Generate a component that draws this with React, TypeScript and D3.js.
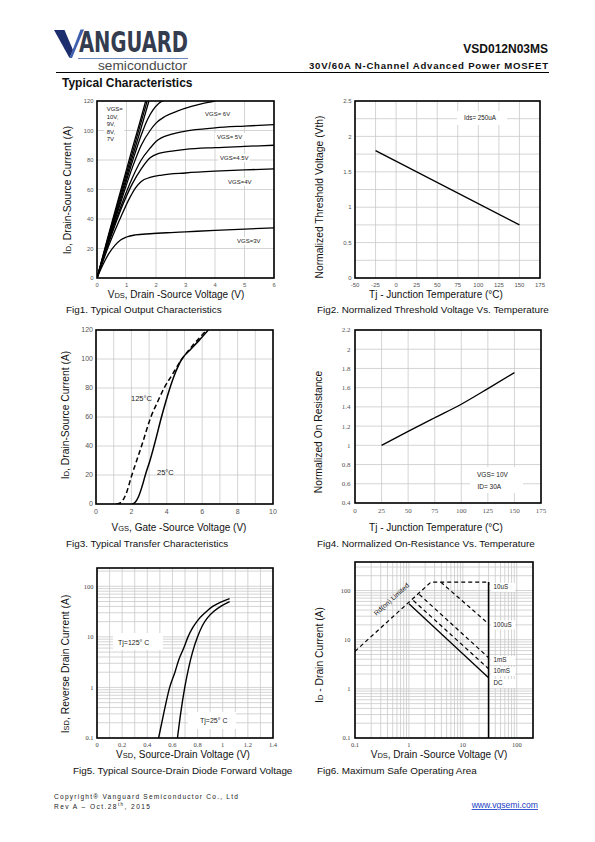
import React from 'react';
import * as d3 from 'd3';

type Pt = [number, number];

// ---------- Fig1: output characteristics ----------
const fig1XTicks = [0, 1, 2, 3, 4, 5, 6];
const fig1YTicks = [0, 20, 40, 60, 80, 100, 120];
const fig1Vgs10: Pt[] = [[0, 0], [0.4, 30], [0.8, 59], [1.2, 88], [1.5, 109], [1.65, 120]];
const fig1Vgs9: Pt[] = [[0, 0], [0.4, 29], [0.8, 57], [1.2, 85], [1.5, 106], [1.7, 120]];
const fig1Vgs8: Pt[] = [[0, 0], [0.4, 28], [0.8, 55], [1.2, 82], [1.5, 102], [1.76, 120]];
const fig1Vgs7: Pt[] = [[0, 0], [0.4, 27], [0.8, 53], [1.2, 79], [1.5, 97], [1.7, 107], [1.9, 114], [2.1, 118.5], [2.35, 121]];
const fig1Vgs6: Pt[] = [[0, 0], [0.4, 26], [0.8, 51], [1.2, 75], [1.5, 90], [1.8, 100], [2.0, 105], [2.3, 109.5], [2.7, 113], [3.2, 116.3], [3.6, 118.4], [4.0, 120]];
const fig1Vgs5: Pt[] = [[0, 0], [0.4, 25], [0.8, 48], [1.2, 68], [1.5, 80], [1.8, 88], [2.0, 92.5], [2.5, 97.3], [3, 99.6], [4, 101.8], [5, 103], [6, 104]];
const fig1Vgs45: Pt[] = [[0, 0], [0.4, 24], [0.8, 46], [1.2, 64], [1.5, 74], [1.8, 81.5], [2.1, 84.5], [2.6, 86.2], [3, 87.2], [4, 88.4], [5, 89.2], [6, 90]];
const fig1Vgs4: Pt[] = [[0, 0], [0.4, 22], [0.8, 41], [1.1, 54], [1.3, 61], [1.5, 65.5], [1.8, 68.2], [2.2, 69.8], [3, 71.2], [4, 72.4], [5, 73.3], [6, 74]];
const fig1Vgs3: Pt[] = [[0, 0], [0.2, 9], [0.4, 16.5], [0.6, 22], [0.8, 25.8], [1.0, 27.8], [1.3, 29.2], [1.8, 30], [2.5, 30.8], [3, 31.3], [4, 32.3], [5, 33.2], [6, 34]];
const fig1Series = [fig1Vgs10, fig1Vgs9, fig1Vgs8, fig1Vgs7, fig1Vgs6, fig1Vgs5, fig1Vgs45, fig1Vgs4, fig1Vgs3];
const fig1GateLabels = ['VGS=', '10V,', '9V,', '8V,', '7V'];

// ---------- Fig2: threshold voltage ----------
const fig2XTicks = [-50, -25, 0, 25, 50, 75, 100, 125, 150, 175];
const fig2YTicks = [0, 0.5, 1, 1.5, 2, 2.5];
const fig2YGrid = [0, 0.25, 0.5, 0.75, 1, 1.25, 1.5, 1.75, 2, 2.25, 2.5];
const fig2Vth: Pt[] = [[-25, 1.8], [150, 0.75]];

// ---------- Fig3: transfer ----------
const fig3XTicks = [0, 2, 4, 6, 8, 10];
const fig3XGrid = [0, 1, 2, 3, 4, 5, 6, 7, 8, 9, 10];
const fig3YTicks = [0, 20, 40, 60, 80, 100, 120];
const fig3T25: Pt[] = [[2.05, 0], [2.2, 1], [2.4, 5], [2.6, 12], [2.8, 20.5], [3.05, 30], [3.3, 41], [3.7, 60], [4.15, 79], [4.5, 91], [4.85, 100], [5.3, 106], [5.8, 112.5], [6.35, 120]];
const fig3T125: Pt[] = [[1.15, 0], [1.4, 1], [1.7, 7], [2.0, 19], [2.3, 30], [2.6, 41], [3.1, 60], [3.5, 71], [3.85, 80], [4.3, 89], [4.8, 99], [5.3, 107], [5.8, 114], [6.25, 120]];

// ---------- Fig4: on-resistance ----------
const fig4XTicks = [0, 25, 50, 75, 100, 125, 150, 175];
const fig4YTicks = [0.4, 0.6, 0.8, 1, 1.2, 1.4, 1.6, 1.8, 2, 2.2];
const fig4Ron: Pt[] = [[25, 1.0], [50, 1.145], [75, 1.287], [100, 1.428], [125, 1.59], [150, 1.757]];

// ---------- Fig5: diode forward ----------
const fig5XTicks = [0, 0.2, 0.4, 0.6, 0.8, 1, 1.2, 1.4];
const fig5XGrid = [0, 0.1, 0.2, 0.3, 0.4, 0.5, 0.6, 0.7, 0.8, 0.9, 1, 1.1, 1.2, 1.3, 1.4];
const fig5YTicks = [0.1, 1, 10, 100];
const fig5Tj125: Pt[] = [[0.49, 0.1], [0.53, 0.3], [0.578, 1], [0.62, 2], [0.65, 3.5], [0.69, 6], [0.724, 10], [0.76, 15], [0.8, 21], [0.86, 30], [0.92, 40], [0.98, 48], [1.055, 57]];
const fig5Tj25: Pt[] = [[0.64, 0.1], [0.665, 0.3], [0.698, 1], [0.73, 2.5], [0.76, 5], [0.8, 10], [0.84, 17], [0.88, 24], [0.93, 32], [0.99, 41], [1.055, 50]];

// ---------- Fig6: SOA ----------
const fig6XTicks = [0.1, 1, 10, 100];
const fig6YTicks = [0.1, 1, 10, 100];
const fig6Rds: Pt[] = [[0.1, 5.8], [2.56, 148], [30, 148]];
const fig6Drop: Pt[] = [[30, 148], [30, 125]];
const fig6Us100: Pt[] = [[3.9, 148], [30, 21]];
const fig6Ms1: Pt[] = [[1.56, 83], [30, 4.3]];
const fig6Ms10: Pt[] = [[1.21, 62.5], [30, 2.56]];
const fig6Dc: Pt[] = [[1.0, 53.6], [30, 1.68]];
const fig6Vmax: Pt[] = [[30, 148], [30, 0.1]];
const fig6Labels = ['10uS', '100uS', '1mS', '10mS', 'DC'];

const SANS = "'Liberation Sans', Arial, sans-serif";
const SERIF = "'Liberation Serif', 'Times New Roman', serif";
const GRID = '#c9c9c9';

function logGrid(lo: number, hi: number): number[] {
  const out: number[] = [];
  for (let d = lo; d <= hi; d *= 10) {
    for (let m = 1; m <= 9; m++) {
      const v = +(m * d).toPrecision(3);
      if (v >= lo - 1e-9 && v <= hi + 1e-9) out.push(v);
    }
  }
  return out;
}

interface PanelProps {
  id: string;
  x: any;
  y: any;
  xGrid: number[];
  yGrid: number[];
  xTicks: number[];
  yTicks: number[];
  fmt?: (v: number) => string;
  font: string;
  size: number;
  color?: string;
  xTickY: number;
  yTickX: number;
  labels?: React.ReactNode;
  children?: React.ReactNode;
}

function Panel(p: PanelProps) {
  const [x0, x1] = p.x.range();
  const [yb, yt] = p.y.range();
  const f = p.fmt || ((v: number) => String(v));
  const col = p.color || '#444';
  return (
    <g>
      <rect x={x0} y={yt} width={x1 - x0} height={yb - yt} fill="#fff" />
      {p.xGrid.map((v, i) => (
        <line key={'xg' + i} x1={p.x(v)} x2={p.x(v)} y1={yt} y2={yb} stroke={GRID} strokeWidth={0.8} />
      ))}
      {p.yGrid.map((v, i) => (
        <line key={'yg' + i} y1={p.y(v)} y2={p.y(v)} x1={x0} x2={x1} stroke={GRID} strokeWidth={0.8} />
      ))}
      {p.labels}
      <clipPath id={p.id}>
        <rect x={x0} y={yt} width={x1 - x0} height={yb - yt} />
      </clipPath>
      <g clipPath={`url(#${p.id})`}>{p.children}</g>
      <rect x={x0} y={yt} width={x1 - x0} height={yb - yt} fill="none" stroke="#000" strokeWidth={1.6} />
      {p.xTicks.map((v, i) => (
        <text key={'xt' + i} x={p.x(v)} y={p.xTickY} textAnchor="middle" fontFamily={p.font} fontSize={p.size} fill={col}>
          {f(v)}
        </text>
      ))}
      {p.yTicks.map((v, i) => (
        <text key={'yt' + i} x={p.yTickX} y={p.y(v)} dy="0.35em" textAnchor="end" fontFamily={p.font} fontSize={p.size} fill={col}>
          {f(v)}
        </text>
      ))}
    </g>
  );
}

function Boxed({ x, y, w, h, children }: { x: number; y: number; w: number; h: number; children?: React.ReactNode }) {
  return (
    <g>
      <rect x={x} y={y} width={w} height={h} fill="#fff" />
      {children}
    </g>
  );
}

function path(pts: Pt[], x: any, y: any, curve: any = d3.curveMonotoneX) {
  return d3.line<Pt>().x((d) => x(d[0])).y((d) => y(d[1])).curve(curve)(pts) || '';
}

function YTitle({ x, y, children }: { x: number; y: number; children?: React.ReactNode }) {
  return (
    <text transform={`translate(${x},${y}) rotate(-90)`} textAnchor="middle" fontFamily={SANS} fontSize={10.3} fill="#111">
      {children}
    </text>
  );
}

function XTitle({ x, y, children }: { x: number; y: number; children?: React.ReactNode }) {
  return (
    <text x={x} y={y} textAnchor="middle" fontFamily={SANS} fontSize={10} fill="#111">
      {children}
    </text>
  );
}

function Caption({ x, y, children }: { x: number; y: number; children?: React.ReactNode }) {
  return (
    <text x={x} y={y} fontFamily={SANS} fontSize={9.9} fill="#111">
      {children}
    </text>
  );
}

const sub = (t: string) => <tspan fontSize={7.5}>{t}</tspan>;

export default function App() {
  const x1 = d3.scaleLinear().domain([0, 6]).range([97, 274]);
  const y1 = d3.scaleLinear().domain([0, 120]).range([278, 101]);
  const x2 = d3.scaleLinear().domain([-50, 175]).range([355, 540]);
  const y2 = d3.scaleLinear().domain([0, 2.5]).range([278, 101]);
  const x3 = d3.scaleLinear().domain([0, 10]).range([96, 273]);
  const y3 = d3.scaleLinear().domain([0, 120]).range([504, 330]);
  const x4 = d3.scaleLinear().domain([0, 175]).range([355, 541]);
  const y4 = d3.scaleLinear().domain([0.4, 2.2]).range([503, 330]);
  const x5 = d3.scaleLinear().domain([0, 1.4]).range([97, 273]);
  const y5 = d3.scaleLog().domain([0.1, 230]).range([738, 568]);
  const x6 = d3.scaleLog().domain([0.1, 200]).range([355, 533]);
  const y6 = d3.scaleLog().domain([0.1, 380]).range([738, 562]);

  const lbl = (s: number) => ({ fontFamily: SANS, fontSize: s, fill: '#222' });

  return (
    <svg width={595} height={842} viewBox="0 0 595 842" style={{ position: 'absolute', left: 0, top: 0, background: '#fff' }} fontFamily={SANS}>
      <rect x={0} y={0} width={595} height={842} fill="#fff" />
      {/* Header */}
      <polygon points="54,30 64.5,30 73,50 69.5,58" fill="#1d2e6e" />
      <polygon points="69.5,58 80.5,29.5 84,29.5 72,58" fill="#3f5fae" />
      <text x={79} y={52} fontFamily="'DejaVu Sans Condensed', 'DejaVu Sans', sans-serif" fontWeight="bold" fontSize={28} fill="#343c50" textLength={109} lengthAdjust="spacingAndGlyphs">ANGUARD</text>
      <line x1={78} x2={188} y1={58.5} y2={58.5} stroke="#6f88c2" strokeWidth={1} />
      <text x={98} y={70} fontFamily={SANS} fontSize={13} fill="#4a4a4a" textLength={89} lengthAdjust="spacingAndGlyphs">semiconductor</text>
      <text x={548} y={53} textAnchor="end" fontFamily={SANS} fontWeight="bold" fontSize={12} fill="#111">VSD012N03MS</text>
      <text x={309} y={69} fontFamily={SANS} fontWeight="bold" fontSize={9.6} fill="#111" textLength={239} lengthAdjust="spacing">30V/60A  N-Channel  Advanced  Power  MOSFET</text>
      <line x1={56} x2={549} y1={72.5} y2={72.5} stroke="#000" strokeWidth={1.2} />
      <text x={62} y={87} fontFamily={SANS} fontWeight="bold" fontSize={12} fill="#111">Typical Characteristics</text>

      {/* Fig1 */}
      <Panel id="c1" x={x1} y={y1} xGrid={fig1XTicks} yGrid={fig1YTicks} xTicks={fig1XTicks} yTicks={fig1YTicks}
        font={SANS} size={5.8} color="#555" xTickY={286.5} yTickX={93.5}
        labels={
          <g>
            <Boxed x={104} y={104} w={20} h={39}>
              {fig1GateLabels.map((t, i) => (
                <text key={i} x={106.7} y={111 + i * 7.5} {...lbl(6)}>{t}</text>
              ))}
            </Boxed>
            <Boxed x={203} y={110} w={30} h={8}><text x={205} y={116} {...lbl(6)}>VGS= 6V</text></Boxed>
            <Boxed x={215} y={133} w={30} h={8}><text x={217} y={139} {...lbl(6)}>VGS= 5V</text></Boxed>
            <Boxed x={218} y={154} w={32} h={8}><text x={220} y={160} {...lbl(6)}>VGS=4.5V</text></Boxed>
            <Boxed x={226} y={178} w={26} h={8}><text x={228} y={184} {...lbl(6)}>VGS=4V</text></Boxed>
            <Boxed x={235} y={237} w={26} h={8}><text x={237} y={243} {...lbl(6)}>VGS=3V</text></Boxed>
          </g>
        }>
        {fig1Series.map((s, i) => (
          <path key={i} d={path(s, x1, y1)} fill="none" stroke="#000" strokeWidth={1.3} />
        ))}
      </Panel>
      <YTitle x={71} y={190}>I{sub('D')}, Drain-Source Current (A)</YTitle>
      <XTitle x={176} y={298}>V{sub('DS')}, Drain -Source Voltage (V)</XTitle>
      <Caption x={66} y={313}>Fig1. Typical Output Characteristics</Caption>

      {/* Fig2 */}
      <Panel id="c2" x={x2} y={y2} xGrid={fig2XTicks} yGrid={fig2YGrid} xTicks={fig2XTicks} yTicks={fig2YTicks}
        font={SANS} size={6} color="#555" xTickY={287} yTickX={351.5}
        labels={<Boxed x={457} y={111} w={50} h={14}><text x={464} y={120} {...lbl(6.3)}>Ids= 250uA</text></Boxed>}>
        <path d={path(fig2Vth, x2, y2, d3.curveLinear)} fill="none" stroke="#000" strokeWidth={1.3} />
      </Panel>
      <YTitle x={323} y={197}>Normalized Threshold Voltage (Vth)</YTitle>
      <XTitle x={436} y={298}>Tj - Junction Temperature (°C)</XTitle>
      <Caption x={317} y={313}>Fig2. Normalized Threshold Voltage Vs. Temperature</Caption>

      {/* Fig3 */}
      <Panel id="c3" x={x3} y={y3} xGrid={fig3XGrid} yGrid={fig3YTicks} xTicks={fig3XTicks} yTicks={fig3YTicks}
        font={SANS} size={7} color="#555" xTickY={514} yTickX={93}
        labels={
          <g>
            <text x={131} y={401} {...lbl(7.5)}>125°C</text>
            <text x={157} y={475} {...lbl(7.5)}>25°C</text>
          </g>
        }>
        <path d={path(fig3T125, x3, y3)} fill="none" stroke="#000" strokeWidth={1.5} strokeDasharray="5,3" />
        <path d={path(fig3T25, x3, y3)} fill="none" stroke="#000" strokeWidth={1.5} />
      </Panel>
      <YTitle x={69} y={415}>I{sub('D')}, Drain-Source Current (A)</YTitle>
      <XTitle x={179} y={531}>V{sub('GS')}, Gate -Source Voltage (V)</XTitle>
      <Caption x={66} y={547}>Fig3. Typical Transfer Characteristics</Caption>

      {/* Fig4 */}
      <Panel id="c4" x={x4} y={y4} xGrid={fig4XTicks} yGrid={fig4YTicks} xTicks={fig4XTicks} yTicks={fig4YTicks}
        font={SERIF} size={7} color="#555" xTickY={513} yTickX={350.5}
        labels={
          <Boxed x={470} y={467} w={53} h={26}>
            <text x={477} y={477} {...lbl(6.5)}>VGS= 10V</text>
            <text x={477.5} y={489} {...lbl(6.5)}>ID= 30A</text>
          </Boxed>
        }>
        <path d={path(fig4Ron, x4, y4)} fill="none" stroke="#000" strokeWidth={1.3} />
      </Panel>
      <YTitle x={322} y={432}>Normalized On Resistance</YTitle>
      <XTitle x={436} y={531}>Tj - Junction Temperature (°C)</XTitle>
      <Caption x={317} y={547}>Fig4. Normalized On-Resistance Vs. Temperature</Caption>

      {/* Fig5 */}
      <Panel id="c5" x={x5} y={y5} xGrid={fig5XGrid} yGrid={logGrid(0.1, 230)} xTicks={fig5XTicks} yTicks={fig5YTicks}
        font={SERIF} size={6.5} color="#444" xTickY={746.5} yTickX={93.5}
        fmt={(v) => String(v)}
        labels={
          <g>
            <Boxed x={113} y={633} w={50} h={17}><text x={118} y={645} {...lbl(7)}>Tj=125°  C</text></Boxed>
            <Boxed x={188} y={712} w={48} h={17}><text x={200} y={723} {...lbl(7)}>Tj=25°  C</text></Boxed>
          </g>
        }>
        <path d={path(fig5Tj125, x5, y5)} fill="none" stroke="#000" strokeWidth={1.4} />
        <path d={path(fig5Tj25, x5, y5)} fill="none" stroke="#000" strokeWidth={1.4} />
      </Panel>
      <YTitle x={69} y={664}>I{sub('SD')}, Reverse Drain Current (A)</YTitle>
      <XTitle x={183} y={758}>V{sub('SD')}, Source-Drain Voltage (V)</XTitle>
      <Caption x={73} y={774}>Fig5. Typical Source-Drain Diode Forward Voltage</Caption>

      {/* Fig6 */}
      <Panel id="c6" x={x6} y={y6} xGrid={logGrid(0.1, 200)} yGrid={logGrid(0.1, 380)} xTicks={fig6XTicks} yTicks={fig6YTicks}
        font={SERIF} size={6.5} color="#444" xTickY={746.5} yTickX={350.5}
        labels={
          <g>
            {fig6Labels.map((t, i) => {
              const ys = [589, 626.5, 662, 673, 685];
              return (
                <Boxed key={t} x={491} y={ys[i] - 6} w={24} h={9}>
                  <text x={493.5} y={ys[i]} {...lbl(6.3)}>{t}</text>
                </Boxed>
              );
            })}
            <text transform={`translate(393,601) rotate(-42)`} textAnchor="middle" {...lbl(6.8)}>Rd(on) Limited</text>
          </g>
        }>
        <path d={path(fig6Rds, x6, y6, d3.curveLinear)} fill="none" stroke="#000" strokeWidth={1.2} strokeDasharray="4,3" />
        <path d={path(fig6Drop, x6, y6, d3.curveLinear)} fill="none" stroke="#000" strokeWidth={1.2} strokeDasharray="3,3" />
        <path d={path(fig6Us100, x6, y6, d3.curveLinear)} fill="none" stroke="#000" strokeWidth={1.2} strokeDasharray="4,3" />
        <path d={path(fig6Ms1, x6, y6, d3.curveLinear)} fill="none" stroke="#000" strokeWidth={1.2} strokeDasharray="4,3" />
        <path d={path(fig6Ms10, x6, y6, d3.curveLinear)} fill="none" stroke="#000" strokeWidth={1.2} strokeDasharray="4,3" />
        <path d={path(fig6Dc, x6, y6, d3.curveLinear)} fill="none" stroke="#000" strokeWidth={1.3} />
        <path d={path(fig6Vmax, x6, y6, d3.curveLinear)} fill="none" stroke="#000" strokeWidth={1.6} />
      </Panel>
      <YTitle x={323} y={655}>I{sub('D')} - Drain Current (A)</YTitle>
      <XTitle x={439} y={758}>V{sub('DS')}, Drain -Source Voltage (V)</XTitle>
      <Caption x={317} y={774}>Fig6. Maximum Safe Operating Area</Caption>

      {/* Footer */}
      <text x={54} y={799} fontFamily={SANS} fontSize={6.6} fill="#222" textLength={184} lengthAdjust="spacing">Copyright® Vanguard Semiconductor Co., Ltd</text>
      <text x={54} y={808.5} fontFamily={SANS} fontSize={6.6} fill="#222" textLength={96} lengthAdjust="spacing">
        Rev A – Oct.28<tspan fontSize={4.5} dy={-3}>th</tspan><tspan dy={3}>, 2015</tspan>
      </text>
      <text x={538} y={808} textAnchor="end" fontFamily={SANS} fontSize={8.6} fill="#1a3fc4" textDecoration="underline">www.vgsemi.com</text>
    </svg>
  );
}
